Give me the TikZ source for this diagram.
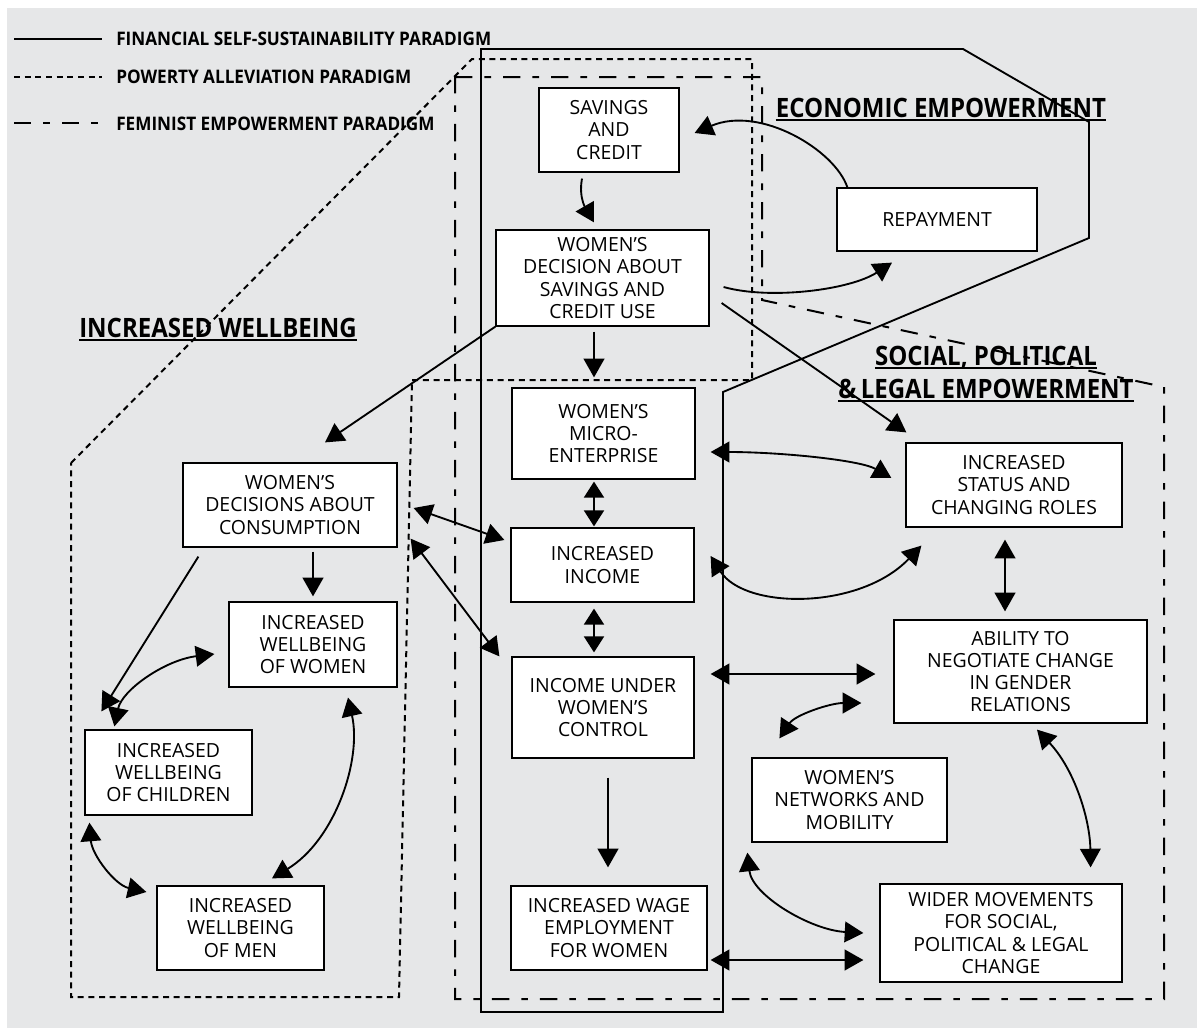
\documentclass[tikz,border=0pt]{standalone}
\usepackage{fontspec}
\setmainfont{Open Sans}
\newfontfamily\headfont[FakeStretch=0.9]{Open Sans}
\newfontfamily\legfont[FakeStretch=0.92]{Open Sans}
\usetikzlibrary{arrows.meta,calc}
\definecolor{bg}{HTML}{E6E7E8}
\begin{document}
\begin{tikzpicture}[x=0.75pt,y=-0.75pt,
  box/.style={draw=black, line width=0.9pt, fill=white, inner sep=0pt, align=center,
    font=\fontsize{14.6pt}{16.6pt}\selectfont},
  fin/.style={line width=1.4pt, line join=miter},
  pov/.style={line width=1.5pt, dash pattern=on 4.5pt off 3.5pt},
  fem/.style={line width=1.5pt, dash pattern=on 13pt off 9pt on 5pt off 9pt},
  tip/.tip={Triangle[length=14pt,width=15.5pt]},
  stip/.tip={Triangle[length=12pt,width=15pt]},
  conn/.style={line width=1.4pt, -tip},
  dconn/.style={line width=1.4pt, tip-tip},
  sconn/.style={line width=1.4pt, stip-stip},
  head/.style={font=\headfont\bfseries\fontsize{20pt}{24pt}\selectfont, inner sep=0pt, anchor=base},
  leg/.style={font=\legfont\bfseries\fontsize{14pt}{17pt}\selectfont, inner sep=0pt, anchor=west}]
\useasboundingbox (0,0) rectangle (1197,1028);
\fill[white] (0,0) rectangle (1197,1028);
\fill[bg] (7,8) rectangle (1197,1028);

% legend
\draw[fin] (14,39) -- (102,39);
\node[leg] (l1) at (116,39) {FINANCIAL SELF-SUSTAINABILITY PARADIGM};
\draw[pov] (14,77) -- (102,77);
\node[leg] (l2) at (116,77) {POWERTY ALLEVIATION PARADIGM};
\draw[fem] (14,123) -- (102,123);
\node[leg] (l3) at (116,124) {FEMINIST EMPOWERMENT PARADIGM};

% paradigm outlines
\draw[fin] (481,49) -- (963,49) -- (1089,122) -- (1089,238) -- (723,392) -- (723,1012) -- (481,1012) -- cycle;
\draw[pov] (71,463) -- (472,59) -- (752,59) -- (752,380) -- (412,380) -- (399,997) -- (71,997) -- cycle;
\draw[fem] (455,77) -- (762,77) -- (762,300) -- (1164,387) -- (1164,999) -- (455,999) -- cycle;

% headings
\node[head] (hwell) at (218,337) {INCREASED WELLBEING};
\draw[line width=1.3pt] ($(hwell.base west)+(0,3)$) -- ($(hwell.base east)+(0,3)$);
\node[head] (hecon) at (941,117) {ECONOMIC EMPOWERMENT};
\draw[line width=1.3pt] ($(hecon.base west)+(0,3)$) -- ($(hecon.base east)+(0,3)$);
\node[head] (hsoc1) at (986,365) {SOCIAL, POLITICAL};
\draw[line width=1.3pt] ($(hsoc1.base west)+(0,3)$) -- ($(hsoc1.base east)+(0,3)$);
\node[head] (hsoc2) at (986,398) {\&\,LEGAL EMPOWERMENT};
\draw[line width=1.3pt] ($(hsoc2.base west)+(0,3)$) -- ($(hsoc2.base east)+(0,3)$);

% boxes
\node[box, minimum width=105pt, minimum height=63pt] (sav) at (609,130) {SAVINGS\\AND\\CREDIT};
\node[box, minimum width=159.75pt, minimum height=72pt] (dec) at (602.5,278) {WOMEN’S\\DECISION ABOUT\\SAVINGS AND\\CREDIT USE};
\node[box, minimum width=150pt, minimum height=47.25pt] (rep) at (937,219.5) {REPAYMENT};
\node[box, minimum width=137.25pt, minimum height=68.25pt] (micro) at (603.5,433.5) {WOMEN’S\\MICRO-\\ENTERPRISE};
\node[box, minimum width=137.25pt, minimum height=55.5pt] (inc) at (602.5,565) {INCREASED\\INCOME};
\node[box, minimum width=136.5pt, minimum height=75.75pt] (ctrl) at (603,707.5) {INCOME UNDER\\WOMEN’S\\CONTROL};
\node[box, minimum width=147pt, minimum height=63pt] (wage) at (609,928) {INCREASED WAGE\\EMPLOYMENT\\FOR WOMEN};
\node[box, minimum width=160.5pt, minimum height=63pt] (cons) at (290,505) {WOMEN’S\\DECISIONS ABOUT\\CONSUMPTION};
\node[box, minimum width=126pt, minimum height=63.75pt] (wwom) at (313,644.5) {INCREASED\\WELLBEING\\OF WOMEN};
\node[box, minimum width=125.25pt, minimum height=63.75pt] (wchi) at (168.5,772.5) {INCREASED\\WELLBEING\\OF CHILDREN};
\node[box, minimum width=125.25pt, minimum height=63pt] (wmen) at (240.5,928) {INCREASED\\WELLBEING\\OF MEN};
\node[box, minimum width=162pt, minimum height=63pt] (stat) at (1014,485) {INCREASED\\STATUS AND\\CHANGING ROLES};
\node[box, minimum width=189.75pt, minimum height=77.25pt] (abil) at (1020.5,671.5) {ABILITY TO\\NEGOTIATE CHANGE\\IN GENDER\\RELATIONS};
\node[box, minimum width=146.25pt, minimum height=63pt] (net) at (849.5,800) {WOMEN’S\\NETWORKS AND\\MOBILITY};
\node[box, minimum width=181.5pt, minimum height=73.5pt] (wide) at (1001,933) {WIDER MOVEMENTS\\FOR SOCIAL,\\POLITICAL \& LEGAL\\CHANGE};

% connectors - centre column
\draw[conn] ($(sav.south)+(-27,6)$) .. controls (578,200) and (588,212) .. ($(dec.north)+(-8.5,-7)$);
\draw[conn] ($(dec.south)+(-8.5,5)$) -- ($(micro.north)+(-9.5,-10)$);
\draw[conn] ($(rep.north west)+(11,0)$) .. controls (835,150) and (760,105) .. ($(sav.east)+(15,3)$);
\draw[conn] ($(dec.east)+(14,9)$) .. controls (770,300) and (850,290) .. ($(rep.south)+(-45,11)$);
\draw[conn] ($(dec.east)+(12,25)$) -- ($(stat.north west)+(1,-10)$);
\draw[conn] (dec.south west) -- ($(cons.north)+(35,-20)$);
\draw[dconn] ($(micro.east)+(15,18.5)$) .. controls (780,452) and (860,460) .. ($(stat.west)+(-14,-7)$);
\draw[sconn] ($(micro.south)+(-9.5,2)$) -- ($(inc.north)+(-8.5,-1)$);
\draw[sconn] ($(inc.south)+(-8.5,6)$) -- ($(ctrl.north)+(-9,-4)$);
\draw[conn] ($(ctrl.south)+(5,19)$) -- ($(wage.north)+(-1,-18)$);
\draw[dconn] ($(cons.east)+(16,3)$) -- ($(inc.west)+(-6,-25)$);
\draw[dconn] ($(cons.south east)+(13,-9)$) -- ($(ctrl.north west)+(-12,0)$);
\draw[dconn] ($(inc.east)+(16,-9)$) .. controls (745,610) and (860,610) .. ($(stat.south west)+(16,18)$);

% right side
\draw[dconn] ($(stat.south)+(-9,12)$) -- ($(abil.north)+(-15.5,-8)$);
\draw[dconn] ($(ctrl.east)+(16,-33.5)$) -- ($(abil.west)+(-18,2.5)$);
\draw[dconn] ($(abil.west)+(-32,31.5)$) .. controls (830,703) and (795,715) .. ($(net.north west)+(28,-19)$);
\draw[dconn] ($(net.south west)+(-4,10)$) .. controls (752,895) and (810,930) .. ($(wide.west)+(-16,0)$);
\draw[dconn] ($(wage.east)+(3,32)$) -- ($(wide.west)+(-16,27)$);
\draw[dconn] ($(abil.south)+(16.5,6)$) .. controls (1075,770) and (1090,820) .. ($(wide.north east)+(-32,-16)$);

% left side
\draw[conn] ($(cons.south)+(23,4)$) -- ($(wwom.north)+(0,-5)$);
\draw[conn] ($(cons.south west)+(16,9)$) -- ($(wchi.north west)+(17,-18)$);
\draw[dconn] ($(wchi.north west)+(30,-3)$) .. controls (122,690) and (165,660) .. ($(wwom.west)+(-14,9.5)$);
\draw[dconn] ($(wwom.south)+(35,10)$) .. controls (362,760) and (335,840) .. ($(wmen.north)+(31.5,-7)$);
\draw[dconn] ($(wchi.south west)+(5,7)$) .. controls (92,855) and (115,885) .. ($(wmen.west)+(-10,-36)$);
\end{tikzpicture}
\end{document}
